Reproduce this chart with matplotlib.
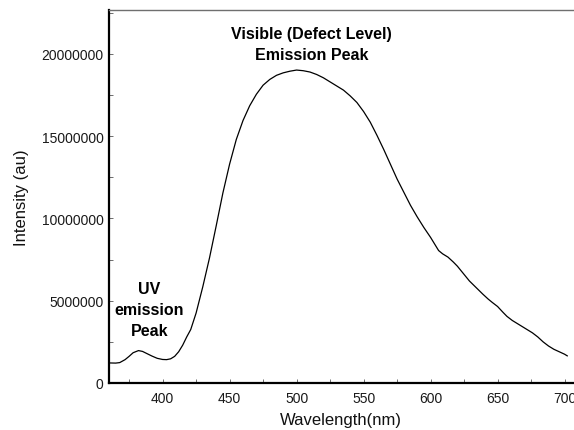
import matplotlib
matplotlib.use("Agg")
import matplotlib.pyplot as plt
from matplotlib.ticker import MultipleLocator, FuncFormatter

plt.rcParams['font.family'] = ['Liberation Sans', 'DejaVu Sans']

# Photoluminescence spectrum: wavelength (nm) and intensity (millions of counts)
wavelength = [360, 365, 368, 372, 375, 378, 382, 385, 388, 392, 396, 400, 403,
              406, 409, 412, 415, 418, 421, 425, 430, 435, 440, 445, 450, 455,
              460, 465, 470, 475, 480, 485, 490, 495, 500, 505, 510, 515, 520,
              525, 530, 535, 540, 545, 550, 555, 560, 565, 570, 575, 580, 585,
              590, 595, 600, 603, 606, 609, 613, 617, 620, 625, 629, 634, 639,
              643, 646, 650, 654, 657, 661, 665, 669, 673, 676, 680, 684, 688,
              692, 696, 700, 702]
intensity_m = [1.22, 1.21, 1.24, 1.42, 1.62, 1.84, 1.97, 1.92, 1.80, 1.64, 1.50,
               1.43, 1.42, 1.47, 1.62, 1.90, 2.30, 2.80, 3.25, 4.25, 5.85, 7.60,
               9.55, 11.55, 13.30, 14.80, 15.95, 16.85, 17.55, 18.10, 18.45, 18.70,
               18.85, 18.95, 19.02, 18.98, 18.90, 18.75, 18.55, 18.30, 18.05, 17.80,
               17.45, 17.05, 16.50, 15.85, 15.05, 14.20, 13.30, 12.40, 11.60, 10.80,
               10.10, 9.45, 8.85, 8.45, 8.05, 7.85, 7.65, 7.35, 7.10, 6.60, 6.20,
               5.80, 5.40, 5.10, 4.90, 4.65, 4.30, 4.05, 3.80, 3.60, 3.40, 3.20,
               3.05, 2.80, 2.50, 2.25, 2.05, 1.90, 1.75, 1.65]
intensity = [v * 1e6 for v in intensity_m]

x_label = "Wavelength(nm)"
y_label = "Intensity (au)"
visible_note = "Visible (Defect Level)\nEmission Peak"
uv_note = "UV\nemission\nPeak"

W, H = 574, 431
fig = plt.figure(figsize=(W / 100, H / 100), dpi=100)
ax = fig.add_axes([109 / W, 1 - 384 / H, (572.6 - 109) / W, (384 - 11) / H])

ax.plot(wavelength, intensity, color='black', linewidth=0.9)

ax.set_xlim(360, 706)
ax.set_ylim(0, 22.67e6)

ax.xaxis.set_major_locator(MultipleLocator(50))
ax.xaxis.set_minor_locator(MultipleLocator(25))
ax.yaxis.set_major_locator(MultipleLocator(5e6))
ax.yaxis.set_minor_locator(MultipleLocator(2.5e6))
ax.yaxis.set_major_formatter(FuncFormatter(lambda v, p: f"{int(round(v))}"))

ax.tick_params(axis='both', which='both', direction='in', length=3,
               width=0.6, color='#555555', labelsize=10, labelcolor='#1a1a1a')
ax.tick_params(axis='x', pad=6)
ax.tick_params(axis='y', pad=4)

for side in ('left', 'bottom'):
    ax.spines[side].set_color('black')
    ax.spines[side].set_linewidth(1.6)
ax.spines['top'].set_color('#6f6f6f')
ax.spines['top'].set_linewidth(1.0)
ax.spines['right'].set_visible(False)

ax.set_xlabel(x_label, fontsize=12, labelpad=5, color='#111111')
ax.set_ylabel(y_label, fontsize=12, labelpad=9, color='#111111')

ax.text(511, 20.6e6, visible_note, ha='center', va='center',
        fontsize=11.5, fontweight='bold', linespacing=1.45)
ax.text(390, 4.44e6, uv_note, ha='center', va='center',
        fontsize=11.5, fontweight='bold', linespacing=1.5)

fig.savefig("out.png", dpi=100)
